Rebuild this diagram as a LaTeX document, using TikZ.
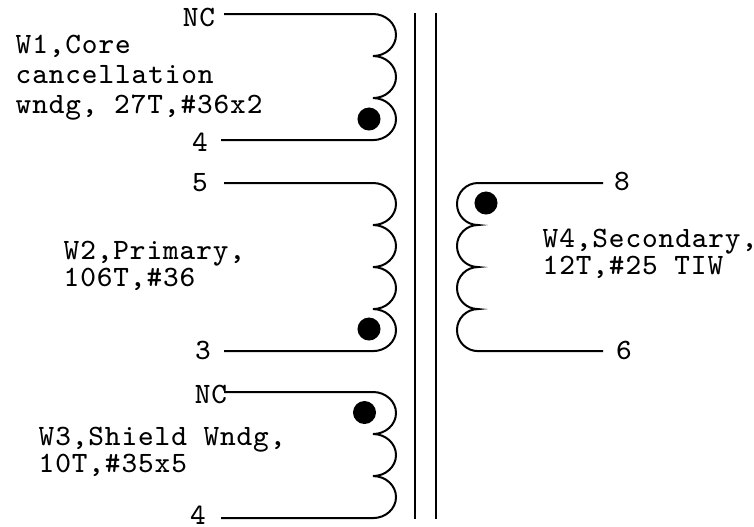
\documentclass[tikz,border=0pt]{standalone}
\usepackage{fontspec}
\setmonofont[LetterSpace=3]{Latin Modern Mono}
\usetikzlibrary{positioning}
\tikzset{wire/.style={line width=.02cm}}
\tikzset{pin/.style={font=\ttfamily\fontsize{8.4pt}{7.7pt}\selectfont, inner sep=0pt}}
\tikzset{wnote/.style={pin, anchor=west, align=left}}
\tikzset{phasedot/.style={circle, fill=black, inner sep=0pt, minimum size=.23cm}}
\newcommand{\bumpr}{arc[start angle=90, end angle=-90, x radius=.23cm, y radius=.21cm]}
\newcommand{\bumpl}{arc[start angle=90, end angle=270, x radius=.21cm, y radius=.21cm]}

\begin{document}
\begin{tikzpicture}[x=.01cm, y=-.01cm]
  \useasboundingbox (0,0) rectangle (754,527);

  % --- core ---
  \coordinate (coreAtop) at (415,13);
  \coordinate (coreAbot) at (415,519);
  \coordinate (coreBtop) at (436,13);
  \coordinate (coreBbot) at (436,519);
  \draw[wire] (coreAtop) -- (coreAbot);
  \draw[wire] (coreBtop) -- (coreBbot);

  % --- W1 ---
  \node[pin] (pinNCa) at (199,17) {NC};
  \node[pin] (pinFoura) at (200,142) {4};
  \coordinate (w1in) at (224,14);
  \coordinate (w1top) at (373,14);
  \coordinate (w1out) at (221,140);
  \draw[wire] (w1in) -- (w1top) \bumpr \bumpr \bumpr -- (w1out);
  \node[phasedot] (dotW1) at (369,119) {};
  \node[wnote] (noteW1) at (15,78) {W1,Core\\[.8pt]cancellation\\[.8pt]wndg, 27T,\#36x2};

  % --- W2 ---
  \node[pin] (pinFive) at (200,183) {5};
  \node[pin] (pinThree) at (203,350) {3};
  \coordinate (w2in) at (224,183);
  \coordinate (w2top) at (373,183);
  \coordinate (w2out) at (224,351);
  \draw[wire] (w2in) -- (w2top) \bumpr \bumpr \bumpr \bumpr -- (w2out);
  \node[phasedot] (dotW2) at (369,329) {};
  \node[wnote] (noteW2) at (63,266) {W2,Primary,\\106T,\#36};

  % --- W3 ---
  \node[pin] (pinNCb) at (211,394) {NC};
  \node[pin] (pinFourb) at (198,515) {4};
  \coordinate (w3in) at (224,392);
  \coordinate (w3top) at (373,392);
  \coordinate (w3out) at (221,518);
  \draw[wire] (w3in) -- (w3top) \bumpr \bumpr \bumpr -- (w3out);
  \node[phasedot] (dotW3) at (364.5,412.5) {};
  \node[wnote] (noteW3) at (38,452) {W3,Shield Wndg,\\10T,\#35x5};

  % --- W4 ---
  \node[pin] (pinEight) at (622,181) {8};
  \node[pin] (pinSix) at (624,350) {6};
  \coordinate (w4in) at (603,183);
  \coordinate (w4top) at (478,183);
  \coordinate (w4out) at (603,351);
  \draw[wire] (w4in) -- (w4top) \bumpl \bumpl \bumpl \bumpl -- (w4out);
  \node[phasedot] (dotW4) at (486,203) {};
  \node[wnote] (noteW4) at (542,254) {W4,Secondary,\\12T,\#25 TIW};
\end{tikzpicture}
\end{document}
